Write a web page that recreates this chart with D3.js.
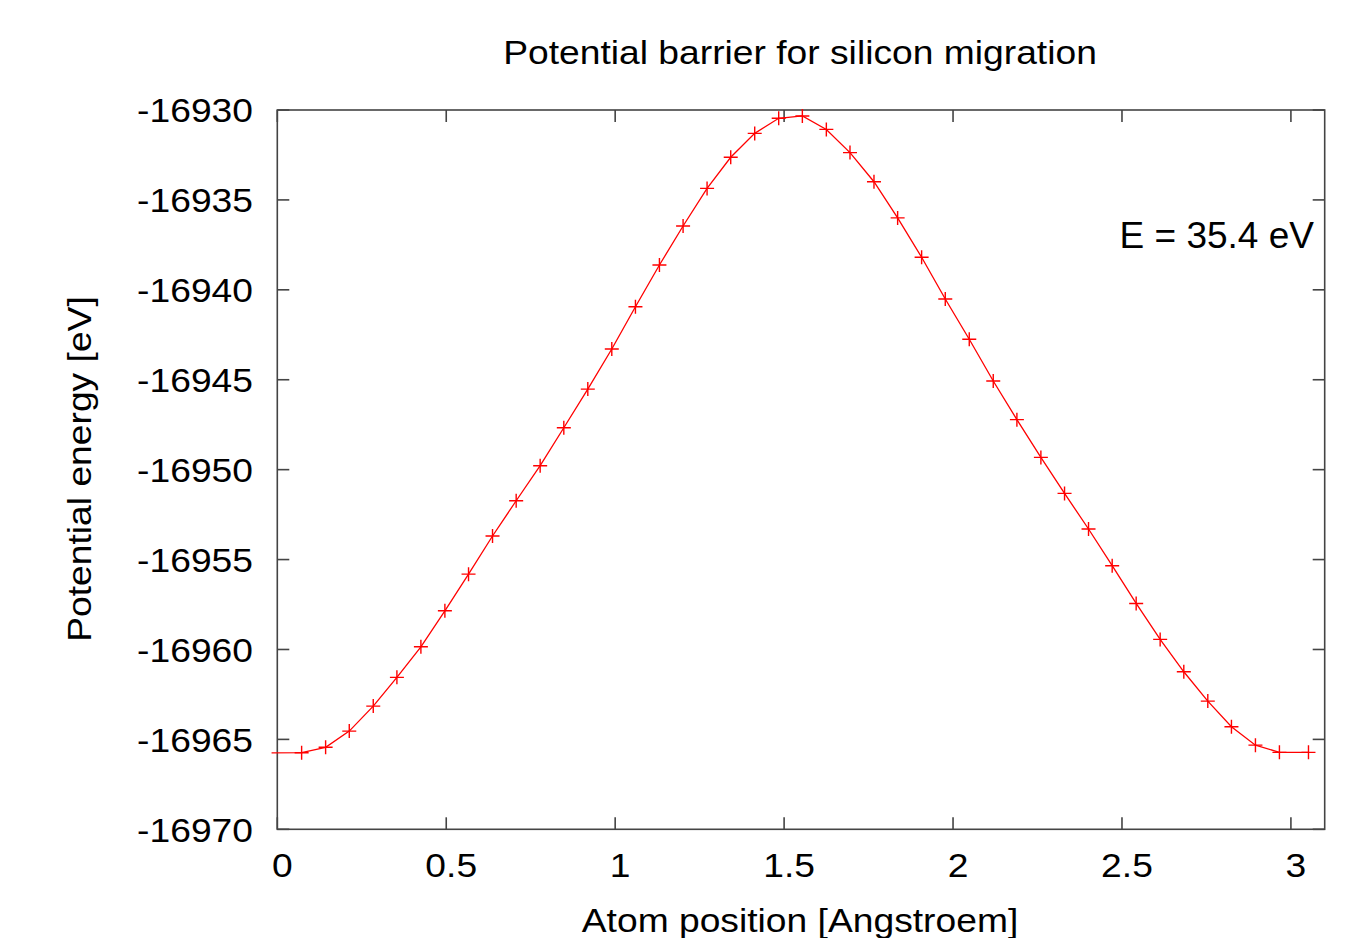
<!DOCTYPE html>
<html>
<head>
<meta charset="utf-8">
<script src="https://cdn.jsdelivr.net/npm/d3@7"></script>
<style>
  html, body { margin: 0; padding: 0; background: #fff; }
  svg { display: block; font-family: "Liberation Sans", Arial, sans-serif; }
</style>
</head>
<body>
<svg id="chart" width="1365" height="938"></svg>
<script>
// Atom position along the migration path [Angstroem]
const positions = [
  -0.017, 0.072, 0.143, 0.213, 0.284, 0.354, 0.425, 0.496, 0.566, 0.637,
  0.707, 0.778, 0.848, 0.919, 0.990, 1.060, 1.131, 1.201, 1.272, 1.342,
  1.413, 1.484, 1.554, 1.625, 1.695, 1.766, 1.836, 1.907, 1.977, 2.048,
  2.119, 2.189, 2.260, 2.330, 2.401, 2.471, 2.542, 2.613, 2.683, 2.754,
  2.824, 2.895, 2.966, 3.052
];
// Total potential energy at each position [eV]
const energies = [
  -16965.75, -16965.74, -16965.44, -16964.54, -16963.15, -16961.55, -16959.85, -16957.85, -16955.81, -16953.69,
  -16951.73, -16949.78, -16947.67, -16945.52, -16943.29, -16940.94, -16938.62, -16936.45, -16934.36, -16932.63,
  -16931.30, -16930.46, -16930.33, -16931.08, -16932.37, -16933.99, -16936.00, -16938.19, -16940.51, -16942.75,
  -16945.07, -16947.22, -16949.32, -16951.32, -16953.30, -16955.34, -16957.44, -16959.44, -16961.24, -16962.87,
  -16964.30, -16965.32, -16965.72, -16965.72
];
const xTicks = [0, 0.5, 1, 1.5, 2, 2.5, 3];
const yTicks = [-16970, -16965, -16960, -16955, -16950, -16945, -16940, -16935, -16930];
const xDomain = [0, 3.1];
const yDomain = [-16970, -16930];
const titleText = "Potential barrier for silicon migration";
const xLabel = "Atom position [Angstroem]";
const yLabel = "Potential energy [eV]";
const barrierLabel = "E = 35.4 eV";

const data = positions.map((x, i) => ({ x, y: energies[i] }));

const svg = d3.select("#chart");
const plot = { left: 277.3, right: 1324.7, top: 110, bottom: 829.3 };

const x = d3.scaleLinear().domain(xDomain).range([plot.left, plot.right]);
const y = d3.scaleLinear().domain(yDomain).range([plot.bottom, plot.top]);

const axisColor = "#444";
const tickLen = 12;
const fontSize = 34;
const stretch = 1.095; // slightly wide lettering

// Places a horizontally widened text at (cx, cy), optionally rotated
function label(g, cx, cy, str, anchor, size, rot = 0, sx = stretch) {
  return g.append("text")
    .attr("transform", `translate(${cx},${cy}) rotate(${rot}) scale(${sx},1)`)
    .attr("text-anchor", anchor).attr("dominant-baseline", "central")
    .attr("font-size", size).attr("fill", "#000").text(str);
}

// Frame
svg.append("rect")
  .attr("x", plot.left).attr("y", plot.top)
  .attr("width", plot.right - plot.left).attr("height", plot.bottom - plot.top)
  .attr("fill", "none").attr("stroke", axisColor).attr("stroke-width", 1.6);

// Inward ticks on all four sides
const ticks = svg.append("g").attr("stroke", axisColor).attr("stroke-width", 1.6);
xTicks.forEach(t => {
  ticks.append("line").attr("x1", x(t)).attr("x2", x(t)).attr("y1", plot.bottom).attr("y2", plot.bottom - tickLen);
  ticks.append("line").attr("x1", x(t)).attr("x2", x(t)).attr("y1", plot.top).attr("y2", plot.top + tickLen);
});
yTicks.forEach(t => {
  ticks.append("line").attr("x1", plot.left).attr("x2", plot.left + tickLen).attr("y1", y(t)).attr("y2", y(t));
  ticks.append("line").attr("x1", plot.right).attr("x2", plot.right - tickLen).attr("y1", y(t)).attr("y2", y(t));
});

// Tick labels
const fmt = d3.format("");
const tl = svg.append("g");
xTicks.forEach(t => label(tl, x(t) + 5, 866, fmt(t), "middle", fontSize));
yTicks.forEach(t => label(tl, 253, y(t) + 1, fmt(t).replace("\u2212", "-"), "end", fontSize));

// Titles and annotation
label(svg, 800, 53, titleText, "middle", fontSize);
label(svg, 800, 921, xLabel, "middle", fontSize);
label(svg, 80, 469, yLabel, "middle", fontSize, -90);
label(svg, 1314, 235, barrierLabel, "end", 37, 0, 1);

// Energy curve
const line = d3.line().x(d => x(d.x)).y(d => y(d.y));
svg.append("path").datum(data)
  .attr("d", line)
  .attr("fill", "none").attr("stroke", "#ff0000").attr("stroke-width", 1.3);

// Point markers (only inside the plotted range)
const inRange = data.filter(d => d.x >= xDomain[0] && d.x <= xDomain[1]);
const arm = 7;
svg.append("g").attr("stroke", "#ff0000").attr("stroke-width", 1.4)
  .selectAll("path").data(inRange).join("path")
  .attr("d", d => {
    const cx = x(d.x), cy = y(d.y);
    return `M${cx - arm},${cy}H${cx + arm}M${cx},${cy - arm}V${cy + arm}`;
  });
</script>
</body>
</html>
